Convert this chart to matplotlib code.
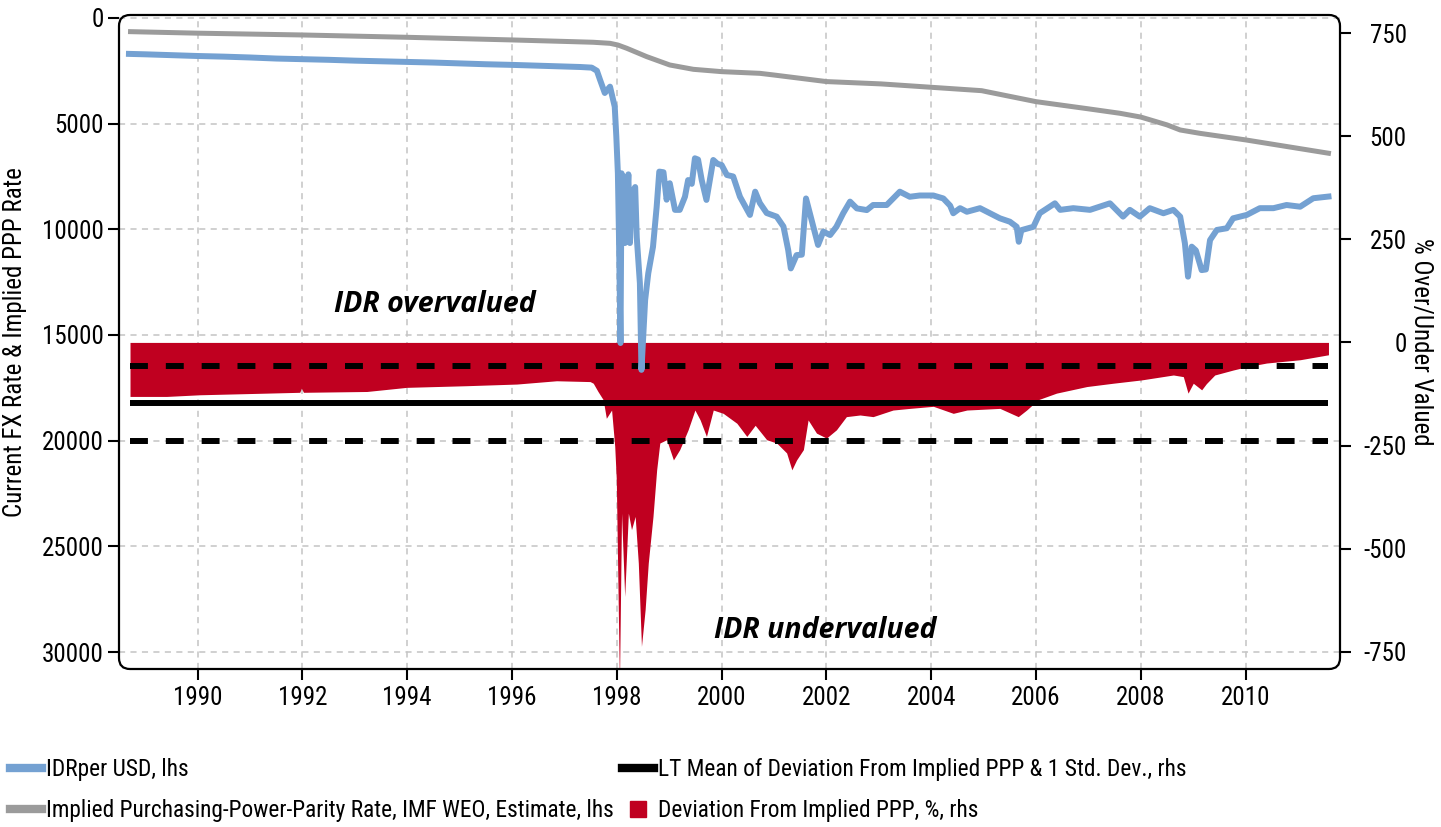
import matplotlib
matplotlib.use("Agg")
import matplotlib.pyplot as plt
from matplotlib.lines import Line2D
from matplotlib.patches import FancyBboxPatch

plt.rcParams["font.family"] = ["Roboto Condensed", "DejaVu Sans"]
plt.rcParams["font.stretch"] = "condensed"
plt.rcParams["axes.unicode_minus"] = False

# IDR per USD (lhs), decimal years
fx_years = [1988.69, 1989.0, 1989.5, 1990.0, 1990.5, 1991.0, 1991.5, 1992.0, 1992.5,
            1993.0, 1993.5, 1994.0, 1994.5, 1995.0, 1995.5, 1996.0, 1996.5, 1996.91,
            1997.3, 1997.52, 1997.62, 1997.68, 1997.77, 1997.87, 1997.96, 1997.99,
            1998.02, 1998.04, 1998.07, 1998.09, 1998.155, 1998.22, 1998.25, 1998.28,
            1998.35, 1998.38, 1998.44, 1998.47, 1998.54, 1998.60, 1998.69, 1998.76,
            1998.81, 1998.89, 1998.95, 1999.01, 1999.11, 1999.20, 1999.30, 1999.36,
            1999.43, 1999.49, 1999.55, 1999.62, 1999.71, 1999.84, 1999.92, 2000.0,
            2000.10, 2000.22, 2000.35, 2000.54, 2000.64, 2000.73, 2000.86, 2001.05,
            2001.18, 2001.27, 2001.32, 2001.43, 2001.53, 2001.61, 2001.75, 2001.84,
            2001.94, 2002.07, 2002.19, 2002.32, 2002.45, 2002.58, 2002.77, 2002.89,
            2003.15, 2003.40, 2003.59, 2003.78, 2004.04, 2004.23, 2004.36, 2004.42,
            2004.55, 2004.68, 2004.93, 2005.12, 2005.31, 2005.50, 2005.63, 2005.67,
            2005.72, 2005.95, 2006.07, 2006.36, 2006.46, 2006.71, 2007.03, 2007.41,
            2007.66, 2007.79, 2007.98, 2008.17, 2008.43, 2008.62, 2008.75, 2008.84,
            2008.90, 2008.97, 2009.05, 2009.16, 2009.24, 2009.32, 2009.45, 2009.64,
            2009.76, 2010.02, 2010.27, 2010.53, 2010.78, 2011.04, 2011.29, 2011.58]
fx_vals = [1700, 1720, 1760, 1800, 1830, 1870, 1920, 1950, 1980,
           2020, 2050, 2080, 2110, 2150, 2190, 2220, 2260, 2290,
           2320, 2350, 2500, 2930, 3550, 3250, 4200, 5600,
           7350, 10200, 15380, 7350, 10650, 7400, 10650, 8290,
           8000, 10370, 12550, 16650, 13350, 12080, 10830, 8940,
           7270, 7300, 8600, 7820, 9080, 9080, 8460, 7670,
           7850, 6640, 6700, 7670, 8610, 6720, 6900, 6960,
           7430, 7500, 8460, 9320, 8220, 8760, 9230, 9400,
           9870, 10980, 11850, 11220, 11200, 8540, 9870, 10740,
           10110, 10270, 9880, 9240, 8690, 9010, 9090, 8850,
           8850, 8220, 8460, 8400, 8400, 8540, 8880, 9240,
           9000, 9170, 9000, 9240, 9480, 9640, 9880, 10590,
           10040, 9880, 9240, 8770, 9080, 9000, 9080, 8770,
           9400, 9080, 9400, 9000, 9240, 9080, 9400, 10660,
           12240, 10820, 11000, 11930, 11900, 10510, 10030, 9950,
           9480, 9320, 9000, 9000, 8850, 8930, 8530, 8450]

# implied PPP rate, IMF WEO (lhs)
ppp_years = [1988.72, 1990.0, 1992.0, 1994.0, 1996.0, 1997.0, 1997.55, 1997.87, 1998.02,
             1998.19, 1998.57, 1999.01, 1999.46, 2000.0, 2000.73, 2001.0, 2002.0, 2003.04,
             2004.0, 2004.96, 2006.0, 2007.0, 2007.6, 2008.0, 2008.5, 2008.75, 2009.13,
             2010.0, 2011.58]
ppp_vals = [648, 720, 805, 915, 1040, 1110, 1150, 1200, 1280,
            1435, 1830, 2225, 2430, 2540, 2620, 2700, 3010, 3120,
            3280, 3440, 3960, 4300, 4510, 4690, 5060, 5300, 5460,
            5770, 6400]

# deviation from implied PPP, % (rhs)
dev_years = [1988.71, 1989.41, 1990.04, 1991.32, 1991.95, 1991.98, 1992.02, 1993.23,
             1993.99, 1995.13, 1996.09, 1996.85, 1997.49, 1997.55, 1997.64, 1997.74,
             1997.80, 1997.90, 1997.96, 1997.99, 1998.05, 1998.09, 1998.15, 1998.22,
             1998.28, 1998.35, 1998.41, 1998.47, 1998.54, 1998.60, 1998.69, 1998.76,
             1998.82, 1998.95, 1999.08, 1999.20, 1999.36, 1999.49, 1999.59, 1999.71,
             1999.84, 2000.03, 2000.29, 2000.48, 2000.64, 2000.86, 2001.05, 2001.24,
             2001.34, 2001.43, 2001.56, 2001.65, 2001.81, 2002.00, 2002.19, 2002.38,
             2002.64, 2002.89, 2003.27, 2003.59, 2004.04, 2004.42, 2004.68, 2005.31,
             2005.66, 2005.82, 2006.04, 2006.39, 2006.97, 2007.47, 2008.01, 2008.62,
             2008.81, 2008.90, 2009.00, 2009.16, 2009.25, 2009.41, 2009.76, 2010.02,
             2010.40, 2011.04, 2011.58]
dev_vals = [-131, -131, -127, -123, -121, -111, -121, -119,
            -109, -105, -101, -93, -95, -99, -119, -139,
            -184, -164, -252, -333, -830, -414, -616, -414,
            -454, -422, -535, -737, -648, -535, -422, -309,
            -244, -236, -285, -260, -212, -164, -188, -228,
            -164, -172, -196, -228, -201, -236, -244, -268,
            -309, -285, -260, -188, -220, -232, -212, -180,
            -176, -180, -164, -160, -155, -172, -164, -160,
            -180, -164, -139, -123, -107, -99, -91, -79,
            -83, -123, -99, -115, -100, -79, -67, -59,
            -50, -42, -30]

LT_MEAN = -148
LT_STD = 92

x_ticks = [1990, 1992, 1994, 1996, 1998, 2000, 2002, 2004, 2006, 2008, 2010]
left_ticks = [0, 5000, 10000, 15000, 20000, 25000, 30000]
right_ticks = [750, 500, 250, 0, -250, -500, -750]

BLUE = "#74A1D2"
GRAY = "#9B9B9B"
RED = "#C00020"
GRID = "#C4C4C4"

fig = plt.figure(figsize=(14.41, 8.27), dpi=100)
ax = fig.add_axes([119 / 1441, 1 - 669 / 827, 1221 / 1441, 654 / 827])
ax2 = ax.twinx()
ax3 = ax.twinx()

for a in (ax, ax2, ax3):
    for s in a.spines.values():
        s.set_visible(False)

ax.set_xlim(1988.5, 2011.8)
ax.set_ylim(30804, -140)
ax3.set_ylim(30804, -140)
ax2.set_ylim(-792, 794)

# grid (bottom layer)
ax.set_xticks(x_ticks)
ax.set_yticks(left_ticks)
ax.grid(True, color=GRID, ls=(0, (4, 3.5)), lw=1.1)
ax.tick_params(axis="both", direction="out", length=8, width=1.5, labelsize=18)
ax.tick_params(axis="x", pad=4)
ax.tick_params(axis="y", pad=3)
ax.set_ylabel("Current FX Rate & Implied PPP Rate", fontsize=18)
ax.yaxis.set_label_coords(-0.0753, 0.5)

# rhs: deviation fill and LT mean +/- 1 std
ax2.fill_between(dev_years, 0, dev_vals, color=RED, lw=0)
span = [dev_years[0], dev_years[-1]]
ax2.plot(span, [LT_MEAN, LT_MEAN], color="black", lw=4.3, solid_capstyle="butt")
for v in (LT_MEAN + LT_STD, LT_MEAN - LT_STD):
    ax2.plot(span, [v, v], color="black", lw=4.3, dashes=(3, 3), dash_capstyle="butt")
ax2.set_yticks(right_ticks)
ax2.set_yticklabels([str(t) for t in right_ticks])
ax2.tick_params(axis="y", direction="out", length=8, width=1.5, labelsize=18, pad=40)
for lab in ax2.get_yticklabels():
    lab.set_horizontalalignment("right")
ax2.set_ylabel("% Over/Under Valued", fontsize=18, rotation=270, va="center")
ax2.yaxis.set_label_coords(1.066, 0.5)

ax2.text(1994.53, 91, "IDR overvalued", fontsize=20.5, fontweight="bold", style="italic",
         family=["Open Sans", "DejaVu Sans"], stretch="normal", ha="center", va="center")
ax2.text(2001.97, -699, "IDR undervalued", fontsize=20.5, fontweight="bold", style="italic",
         family=["Open Sans", "DejaVu Sans"], stretch="normal", ha="center", va="center")

# lhs lines on top
ax3.plot(ppp_years, ppp_vals, color=GRAY, lw=3.6)
ax3.plot(fx_years, fx_vals, color=BLUE, lw=4.3)
ax3.set_yticks([])

# rounded frame
W, H = 1221, 654
frame = FancyBboxPatch((0, 0), 1, 1, boxstyle="round,pad=0,rounding_size=0.009",
                       transform=ax3.transAxes, mutation_aspect=W / H,
                       fill=False, lw=1.6, ec="black", clip_on=False, zorder=10)
ax3.add_patch(frame)

h_blue = Line2D([], [], color=BLUE, lw=6)
h_gray = Line2D([], [], color=GRAY, lw=6)
h_black = Line2D([], [], color="black", lw=6)
h_red = Line2D([], [], color=RED, marker="s", ls="none", markersize=11)

common = dict(loc="upper left", frameon=False, fontsize=16.8, handlelength=1.35,
              handletextpad=0.2, labelspacing=0.78, borderpad=0, borderaxespad=0)
fig.legend([h_blue, h_gray],
           ["IDRper USD, lhs", "Implied Purchasing-Power-Parity Rate, IMF WEO, Estimate, lhs"],
           bbox_to_anchor=(10 / 1441, 1 - 758 / 827), **common)
fig.legend([h_black, h_red],
           ["LT Mean of Deviation From Implied PPP & 1 Std. Dev., rhs",
            "Deviation From Implied PPP, %, rhs"],
           bbox_to_anchor=(622 / 1441, 1 - 758 / 827), **common)

fig.savefig("out.png", dpi=100)
